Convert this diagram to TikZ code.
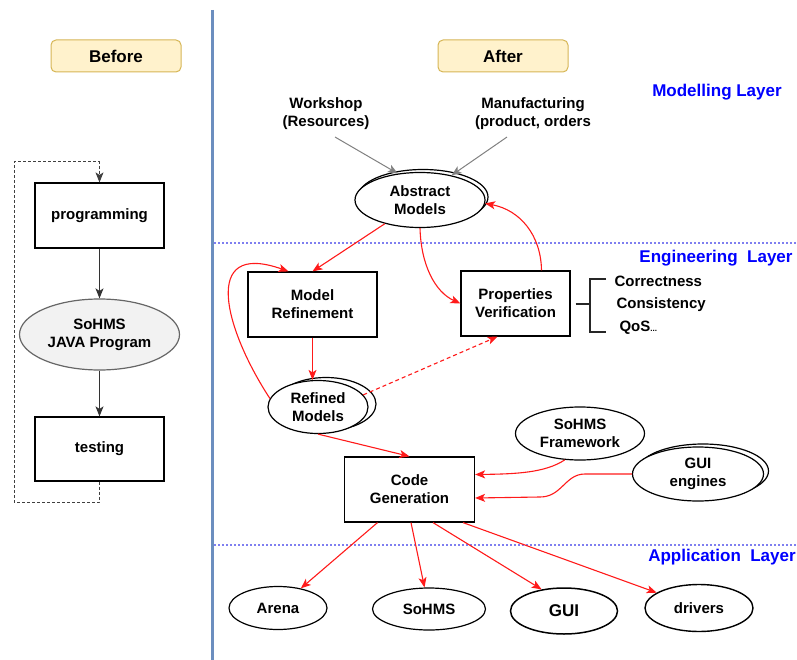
\documentclass[tikz,border=0pt]{standalone}
\usepackage{fontspec}
\setmainfont{Liberation Sans}
\usetikzlibrary{shapes.geometric,shadows,arrows.meta}

\definecolor{tagfill}{HTML}{FFF2CC}
\definecolor{tagdraw}{HTML}{D6B656}
\definecolor{panel}{HTML}{6C8EBF}
\definecolor{layerblue}{HTML}{0000FF}
\definecolor{sepblue}{HTML}{7F7FF0}
\definecolor{flowred}{HTML}{FF1A1A}
\definecolor{javafill}{HTML}{F2F2F2}
\definecolor{javadraw}{HTML}{666666}

\tikzset{
  tag/.style={draw=tagdraw, fill=tagfill, rounded corners=5pt, line width=1pt,
    minimum width=130pt, minimum height=32pt, font=\fontsize{17}{20}\selectfont\bfseries},
  task/.style={draw, line width=1.2pt, fill=white, minimum width=129pt,
    minimum height=65pt, align=center},
  model/.style={ellipse, draw, line width=1.2pt, fill=white, inner sep=0pt, align=center},
  twin/.style={copy shadow={shadow xshift=#1, shadow yshift=3pt}},
  layer/.style={text=layerblue, font=\fontsize{17}{20}\selectfont\bfseries},
  tip/.style={-{Stealth[length=10pt,width=8pt,inset=2.5pt]}},
  seq/.style={draw=black!80, line width=1.3pt, tip},
  back/.style={draw=black!75, line width=1pt, dash pattern=on 3pt off 2pt, tip},
  feed/.style={draw=black!50, line width=1pt, tip},
  flow/.style={draw=flowred, line width=1.1pt, tip},
  sep/.style={draw=sepblue, line width=1.2pt, dash pattern=on 2pt off 2pt},
  brace/.style={draw=black!85, line width=2pt}
}

\begin{document}
\begin{tikzpicture}[x=1pt, y=-1pt,
    every node/.style={font=\fontsize{15}{18}\selectfont\bfseries}]
  \useasboundingbox (0,0) rectangle (797,660);

  % panel divider and layer borders
  \draw[panel, line width=3pt] (212,10) -- (212,660);
  \draw[sep] (214,243) -- (797,243);
  \draw[sep] (214,545) -- (797,545);

  \node[tag] (before) at (116,56) {Before};
  \node[tag] (after) at (503,56) {After};

  % before: hand written program
  \node[task] (prog) at (99.5,215.5) {programming};
  \node[model, fill=javafill, draw=javadraw, minimum width=160pt, minimum height=71pt] (java) at (99.5,334.5) {SoHMS\\JAVA Program};
  \node[task, minimum height=64pt] (test) at (99.5,449) {testing};
  \draw[seq] (prog) -- (java);
  \draw[seq] (java) -- (test);
  \coordinate (loopbot) at (14,502);
  \coordinate (looptop) at (14,162);
  \draw[back] (test.south) |- (loopbot) -- (looptop) -| (prog.north);

  % after: layers
  \node[layer] (mlayer) at (717,92) {Modelling Layer};
  \node[layer] (elayer) at (716,258) {Engineering\ \ Layer};
  \node[layer] (alayer) at (722,557) {Application\ \ Layer};

  \node[align=center] (shop) at (326,113.5) {Workshop\\(Resources)};
  \node[align=center] (manu) at (533,113.5) {Manufacturing\\(product, orders};
  \node[model, twin=3pt, minimum width=130pt, minimum height=55pt] (abs) at (420,200) {Abstract\\Models};
  \draw[feed] ([xshift=9pt,yshift=-4pt]shop.south) -- (abs.130);
  \draw[feed] ([xshift=-26pt,yshift=-4pt]manu.south) -- (abs.38);

  \node[task] (refine) at (312.5,304.5) {Model\\Refinement};
  \node[task, minimum width=109pt] (props) at (515.5,303.5) {Properties\\Verification};
  \node[model, twin=8pt, minimum width=100pt, minimum height=53pt] (refined) at (318,407) {Refined\\Models};

  \node[anchor=west] (corr) at (611,281) {Correctness};
  \node[anchor=west] (cons) at (613,305) {Consistency};
  \node[anchor=west] (qos) at (616,328) {QoS{\fontsize{8}{8}\selectfont...}};
  \coordinate (brk) at (590,303.5);
  \draw[brace] ([xshift=5pt]props.east) -- (brk);
  \draw[brace] (606,279) -| (brk) |- (606,332);

  \draw[flow] (abs.214) -- (refine.north);
  \draw[flow] (abs.south) .. controls (421,265) and (435,292) .. (props.west);
  \draw[flow] ([xshift=26pt]props.north) .. controls (541,235) and (520,210) .. (abs.-3);
  \draw[flow] (refined.170) .. controls (225,330) and (200,240) .. ([xshift=-24pt]refine.north);
  \draw[flow] (refine.south) -- (refine.south |- refined.north);
  \draw[flow, dash pattern=on 4pt off 3pt] (refined.15) -- ([xshift=-18pt]props.south);

  % code generation
  \node[task, minimum width=130pt] (code) at (409.5,489.5) {Code\\Generation};
  \node[model, minimum width=129pt, minimum height=53pt] (frame) at (580,433.5) {SoHMS\\Framework};
  \node[model, twin=5pt, minimum width=131pt, minimum height=54pt] (guieng) at (698,474) {GUI\\engines};
  \draw[flow] (refined.south) -- (code.north);
  \draw[flow] (frame.240) .. controls (545,473) and (515,474) .. ([yshift=15pt]code.east);
  \draw[flow] (guieng.west) -- (585,474) .. controls (565,474) and (562,497) .. (540,497) -- ([yshift=-8.5pt]code.east);

  % application layer
  \node[model, minimum width=98pt, minimum height=43pt] (arena) at (278,608) {Arena};
  \node[model, minimum width=113pt, minimum height=42pt] (sohms) at (429,609) {SoHMS};
  \node[model, line width=1.5pt, minimum width=107pt, minimum height=46pt, font=\fontsize{17}{20}\selectfont\bfseries] (gui) at (564,611) {GUI};
  \node[model, line width=1.4pt, minimum width=108pt, minimum height=47pt] (drivers) at (699,608) {drivers};
  \draw[flow] ([xshift=-32pt]code.south) -- (arena);
  \draw[flow] ([xshift=1.5pt]code.south) -- (sohms);
  \draw[flow] ([xshift=23.5pt]code.south) -- (gui.136);
  \draw[flow] ([xshift=53.5pt]code.south) -- (drivers);
\end{tikzpicture}
\end{document}
